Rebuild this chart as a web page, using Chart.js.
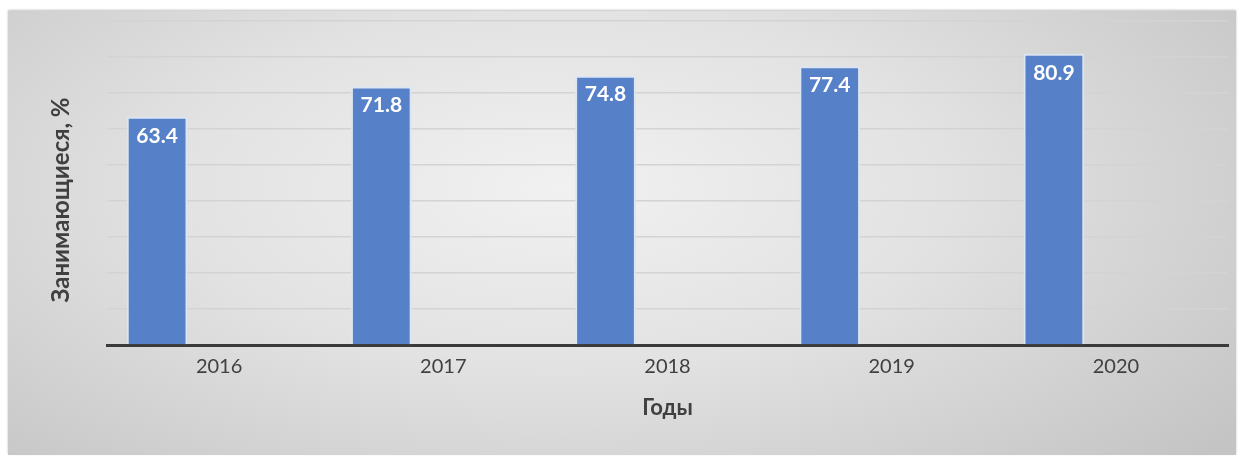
<!DOCTYPE html>
<html>
<head>
<meta charset="utf-8">
<script src="https://cdn.jsdelivr.net/npm/chart.js@4/dist/chart.umd.min.js"></script>
<style>
   html, body { margin: 0; padding: 0; background: #ffffff; }
   #panel {
      position: absolute;
      left: 8px;
      top: 11px;
      width: 1228px;
      height: 444px;
      background: radial-gradient(ellipse 70% 90% at 45% 40%, #f1f1f1 0%, #e2e2e2 45%, #c4c4c4 100%);
      box-shadow: 0 -1px 2px rgba(0, 0, 0, 0.25);
   }
   #chart { display: block; }
</style>
</head>
<body>
<div id="panel"><canvas id="chart" width="1228" height="444"></canvas></div>
<script>
const years = ["2016", "2017", "2018", "2019", "2020"];
const shares = [63.4, 71.8, 74.8, 77.4, 80.9];
const emptySeries = [null, null, null, null, null];
const yTitle = "Занимающиеся, %";
const xTitle = "Годы";

// white value labels inside the top of each bar
const valueLabels = {
   id: "valueLabels",
   afterDatasetsDraw(chart) {
      const ctx = chart.ctx;
      const meta = chart.getDatasetMeta(0);
      ctx.save();
      ctx.fillStyle = "#ffffff";
      ctx.font = "bold 21px Lato";
      ctx.textAlign = "center";
      ctx.textBaseline = "middle";
      meta.data.forEach((bar, i) => {
         ctx.fillText(shares[i].toFixed(1), bar.x, bar.y + 19);
      });
      ctx.restore();
   },
};

// y title sits a bit lower than the plot centre in the original
const sideTitle = {
   id: "sideTitle",
   afterDraw(chart) {
      const ctx = chart.ctx;
      ctx.save();
      ctx.translate(53, 189);
      ctx.rotate(-Math.PI / 2);
      ctx.fillStyle = "#404040";
      ctx.font = "bold 24px Lato";
      ctx.textAlign = "center";
      ctx.textBaseline = "middle";
      ctx.fillText(yTitle, 0, 0);
      ctx.restore();
   },
};

new Chart(document.getElementById("chart"), {
   type: "bar",
   data: {
      labels: years,
      datasets: [
         {
            label: yTitle,
            data: shares,
            backgroundColor: "#5680c8",
            borderColor: "#dbe5f4",
            borderWidth: 2,
            categoryPercentage: 1.106,
            barPercentage: 0.49,
         },
         {
            label: "",
            data: emptySeries,
            categoryPercentage: 1.106,
            barPercentage: 0.49,
         },
      ],
   },
   options: {
      responsive: false,
      animation: false,
      layout: { padding: { left: 0, right: 8, top: 10, bottom: 30 } },
      plugins: {
         legend: { display: false },
         tooltip: { enabled: false },
      },
      scales: {
         x: {
            grid: { display: false, drawTicks: false },
            border: { display: true, color: "#3a3a3a", width: 3 },
            ticks: {
               padding: 10,
               color: "#404040",
               font: { family: "Lato", size: 20 },
            },
            title: {
               display: true,
               text: xTitle,
               color: "#404040",
               font: { family: "Lato", size: 22, weight: "bold" },
            },
            afterFit(scale) {
               scale.height = 80;
            },
         },
         y: {
            min: 0,
            max: 90,
            ticks: { display: false, stepSize: 10 },
            grid: { color: "#d3d3d3", lineWidth: 1.5, drawTicks: false },
            border: { display: false },
            afterFit(scale) {
               scale.width = 99;
            },
         },
      },
   },
   plugins: [valueLabels, sideTitle],
});
</script>
</body>
</html>
